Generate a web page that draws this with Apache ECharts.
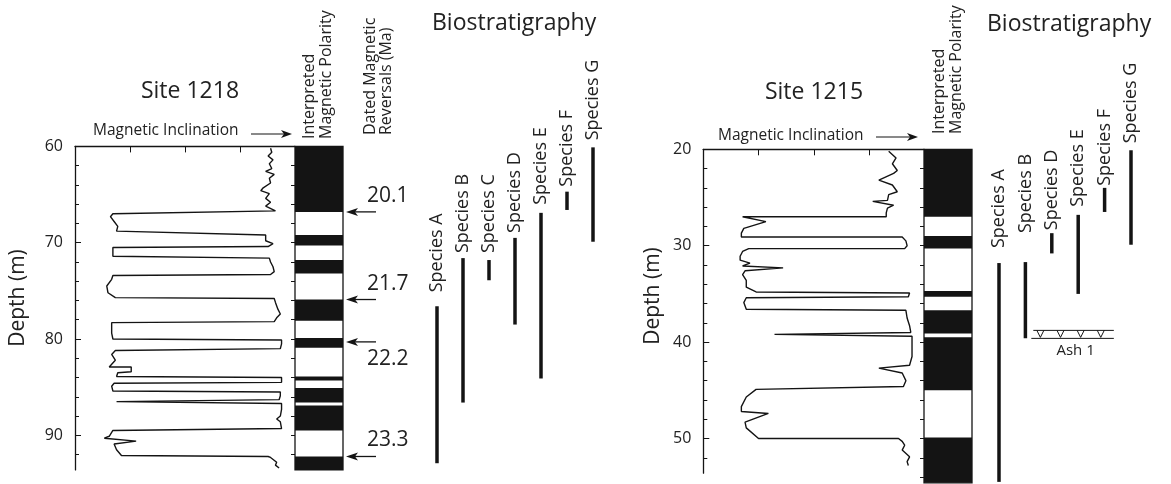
<!DOCTYPE html>
<html><head><meta charset="utf-8">
<script src="https://cdn.jsdelivr.net/npm/echarts@6/dist/echarts.min.js"></script>
<style>html,body{margin:0;padding:0;background:#fff}#c{width:1171px;height:484px}</style>
</head><body><div id="c"></div><script>
// ---------- Site 1218 ----------
const incl1218 = [
[70,60.2],[71,60.6],[68,61.0],[72,61.4],[69,61.8],[71,62.3],[66,62.6],[73,62.9],[69,63.3],[70,63.8],[64,64.3],[62,64.6],[69,64.9],[66,65.4],[70,65.8],[66,66.2],[74,66.7],[74,66.9],
[-59,67.0],[-61,67.3],[-58,67.8],[-55,68.3],[-56,68.8],[-55,68.9],
[66,69.2],[67,69.4],[66,69.8],[72,70.1],[68,70.4],
[-59,70.5],[-59,71.1],[-59,71.4],
[69,71.6],[70,72.0],[72,72.5],[73,73.0],[70,73.3],
[-59,73.4],[-60,73.8],[-64,74.5],[-63,75.2],[-57,75.7],
[73,75.8],[74,76.2],[76,76.9],[78,77.4],[75,77.8],[73,78.2],
[-60,78.3],[-60,78.8],[-60,79.4],[-59,80.0],
[79,80.1],[79,80.5],[78,81.0],
[-57,81.2],[-60,81.6],[-57,82.2],[-62,82.9],[-44,82.9],[-44,83.4],[-55,83.5],[-56,83.9],
[79,84.0],[78,84.2],[79,84.5],
[-58,84.6],[-60,84.9],[-59,85.4],
[78,85.5],[78,85.9],[77,86.3],
[-56,86.5],
[79,86.7],[79,87.3],[78,88.0],[75,88.3],[78,88.6],[79,89.3],
[-59,89.5],[-59,89.6],[-62,90.1],[-66,90.3],[-66,90.5],[-40,90.6],[-58,90.9],[-56,91.5],[-52,92.1],
[68,92.2],[70,92.3],[75,92.8],[74,93.1],[77,93.4]
];
const normalTop1218  = [60.0, 69.2, 71.8, 75.9, 79.9, 83.9, 85.1, 86.9, 92.2];
const normalBase1218 = [66.8, 70.3, 73.2, 78.1, 80.9, 84.3, 86.6, 89.5, 93.6];
const reversalAges1218   = ['20.1', '21.7', '22.2', '23.3'];
const reversalDepths1218 = [66.8, 75.9, 80.3, 92.2];
const species1218     = ['Species A','Species B','Species C','Species D','Species E','Species F','Species G'];
const speciesTop1218  = [76.6, 71.6, 71.8, 69.5, 66.9, 64.7, 60.1];
const speciesBase1218 = [92.9, 86.6, 73.9, 78.5, 84.1, 66.6, 69.9];
const depthTicks1218  = [60, 70, 80, 90];

// ---------- Site 1215 ----------
const incl1215 = [
[61,20.2],[67,20.9],[64,21.5],[68,22.2],[65,22.5],[53,23.2],[64,23.7],[68,24.4],[61,24.7],[60,25.3],[48,25.4],[65,25.8],[60,26.1],[59,26.6],[59,27.0],
[-58,27.0],[-39,27.5],[-57,28.2],[-59,28.7],[-59,29.1],
[72,29.1],[75,29.5],[76,30.0],[74,30.3],
[-53,30.3],[-58,30.6],[-60,31.1],[-60,31.5],[-52,31.8],[-58,32.1],[-25,32.3],[-56,32.6],[-58,33.0],[-55,33.6],[-55,34.3],[-47,34.8],
[78,34.9],[77,35.3],
[-55,35.4],[-57,35.9],[-55,36.6],
[75,36.7],[76,37.5],[78,38.3],[79,39.0],
[-32,39.2],
[80,39.4],[80,40.0],[80,41.5],[78,42.4],[53,42.7],[72,43.2],[75,44.0],[73,44.6],[74,44.8],
[-47,44.9],[-55,45.7],[-59,46.7],[-59,47.2],[-37,47.4],[-56,48.3],[-55,48.9],[-45,50.0],
[69,50.0],[72,50.3],[74,50.7],[72,51.2],[78,51.9],[76,52.4],[77,52.8]
];
const normalTop1215  = [20.0, 29.0, 34.7, 36.7, 39.5, 49.9];
const normalBase1215 = [27.0, 30.3, 35.3, 39.1, 45.0, 54.6];
const species1215     = ['Species A','Species B','Species D','Species E','Species F','Species G'];
const speciesTop1215  = [31.8, 31.7, 28.7, 26.8, 24.0, 20.1];
const speciesBase1215 = [54.5, 39.6, 30.8, 35.0, 26.5, 29.9];
const ashNames1215  = ['Ash 1'];
const ashDepths1215 = [39.2];
const depthTicks1215 = [20, 30, 40, 50];

// ---------- styling (label gaps above each range bar, px) ----------
const labelGap1218 = [14, 5, 7, 5, 8, 5, 7];
const labelGap1215 = [15, 29, 3, 8, 2, 7];
const INK = '#141414';
const FONT = '"Open Sans", "DejaVu Sans", sans-serif';
const labelBelowAges = ['22.2'];

function polarityItem(params, api) {
  const a = api.coord([0, api.value(1)]);
  const b = api.coord([1, api.value(2)]);
  return {type: 'rect', shape: {x: a[0], y: a[1], width: b[0] - a[0], height: b[1] - a[1]}, style: {fill: INK}};
}
function speciesItem(names, gaps) {
  return function (params, api) {
    const i = api.value(0);
    const a = api.coord([i, api.value(1)]);
    const b = api.coord([i, api.value(2)]);
    return {type: 'group', children: [
      {type: 'line', shape: {x1: a[0], y1: a[1], x2: b[0], y2: b[1]}, style: {stroke: INK, lineWidth: 3.5}},
      {type: 'text', x: a[0], y: a[1] - gaps[params.dataIndex], rotation: Math.PI / 2,
       style: {text: names[params.dataIndex], align: 'left', verticalAlign: 'middle', fontSize: 18, fontFamily: FONT, fill: '#222'}}
    ]};
  };
}
function reversalItem(params, api) {
  const p = api.coord([0, api.value(1)]);
  const x0 = p[0] + 2, y = p[1];
  const age = reversalAges1218[params.dataIndex];
  const below = labelBelowAges.indexOf(age) >= 0;
  return {type: 'group', children: [
    {type: 'line', shape: {x1: x0 + 6, y1: y, x2: x0 + 30, y2: y}, style: {stroke: INK, lineWidth: 1.3}},
    {type: 'polygon', shape: {points: [[x0, y], [x0 + 12, y - 4], [x0 + 9, y], [x0 + 12, y + 4]]}, style: {fill: INK}},
    {type: 'text', x: x0 + 21, y: below ? y + 17 : y - 16,
     style: {text: age, align: 'left', verticalAlign: 'middle', fontSize: 21, fontFamily: FONT, fill: '#222'}}
  ]};
}
function ashItem(params, api) {
  const d = api.value(0);
  const l = api.coord([1.3, d]), r = api.coord([4.35, d]);
  const y = l[1] - 4, h = 8;
  const children = [
    {type: 'line', shape: {x1: l[0], y1: y, x2: r[0], y2: y}, style: {stroke: INK, lineWidth: 1}},
    {type: 'line', shape: {x1: l[0] - 2, y1: y + h, x2: r[0], y2: y + h}, style: {stroke: INK, lineWidth: 1}}
  ];
  const n = 4, step = (r[0] - l[0]) / n;
  for (let k = 0; k < n; k++) {
    const cx = l[0] + step * (k + 0.35);
    children.push({type: 'polyline', shape: {points: [[cx - 3.5, y], [cx, y + h - 1], [cx + 3.5, y]]}, style: {stroke: INK, lineWidth: 1, fill: null}});
  }
  children.push({type: 'text', x: (l[0] + r[0]) / 2 + 2, y: y + h + 12,
    style: {text: ashNames1215[params.dataIndex], align: 'center', verticalAlign: 'middle', fontSize: 15, fontFamily: FONT, fill: '#222'}});
  return {type: 'group', children: children};
}

function depthAxis(gridIndex, min, max, ticks, withLabels) {
  return {
    type: 'value', gridIndex: gridIndex, inverse: true, min: min, max: max, interval: 10,
    axisLine: {show: withLabels, onZero: false, lineStyle: {color: INK, width: 1.3}},
    axisTick: {show: true, inside: withLabels, length: withLabels ? 6 : 4, customValues: ticks, lineStyle: {color: INK, width: 1}},
    minorTick: {show: true, splitNumber: 5, length: 4, lineStyle: {color: INK, width: 1}},
    axisLabel: {show: withLabels, customValues: ticks, margin: 12, fontSize: 16, fontFamily: FONT, color: '#222'},
    splitLine: {show: false}, minorSplitLine: {show: false}
  };
}
function hiddenY(gridIndex, min, max) {
  return {type: 'value', gridIndex: gridIndex, inverse: true, min: min, max: max, show: false};
}
function hiddenX(gridIndex, min, max) {
  return {type: 'value', gridIndex: gridIndex, min: min, max: max, show: false};
}
function inclAxis(gridIndex) {
  return {type: 'value', gridIndex: gridIndex, position: 'top', min: -90, max: 90, interval: 45,
    axisLine: {show: true, onZero: false, lineStyle: {color: INK, width: 1.3}},
    axisTick: {show: true, inside: true, length: 6, lineStyle: {color: INK}},
    axisLabel: {show: false}, splitLine: {show: false}};
}

const pxPerM = 9.63;
const grids = [
  {left: 75, top: 146.4, width: 220, height: 33.6 * pxPerM},
  {left: 295, top: 146.4, width: 48, height: 33.6 * pxPerM, show: true, borderColor: INK, borderWidth: 1.3, backgroundColor: '#fff'},
  {left: 344, top: 146.4, width: 80, height: 33.6 * pxPerM},
  {left: 424, top: 146.4, width: 182, height: 33.6 * pxPerM},
  {left: 703.3, top: 149.3, width: 221, height: 33.6 * 9.64},
  {left: 924, top: 149.3, width: 48, height: 34.6 * 9.64, show: true, borderColor: INK, borderWidth: 1.3, backgroundColor: '#fff'},
  {left: 985.8, top: 149.3, width: 158.4, height: 34.6 * 9.64}
];
const xAxes = [
  inclAxis(0), hiddenX(1, 0, 1), hiddenX(2, 0, 1), hiddenX(3, -0.5, species1218.length - 0.5),
  inclAxis(4), hiddenX(5, 0, 1), hiddenX(6, -0.5, species1215.length - 0.5)
];
const yAxes = [
  depthAxis(0, 60, 93.6, depthTicks1218, true),
  depthAxis(1, 60, 93.6, depthTicks1218, false),
  hiddenY(2, 60, 93.6), hiddenY(3, 60, 93.6),
  depthAxis(4, 20, 53.6, depthTicks1215, true),
  depthAxis(5, 20, 54.6, depthTicks1215, false),
  hiddenY(6, 20, 54.6)
];

const series = [
  {type: 'line', xAxisIndex: 0, yAxisIndex: 0, data: incl1218, showSymbol: false, symbol: 'none', animation: false,
   lineStyle: {color: INK, width: 1.4}},
  {type: 'custom', xAxisIndex: 1, yAxisIndex: 1, renderItem: polarityItem, animation: false,
   data: normalTop1218.map((t, i) => [0, t, normalBase1218[i]])},
  {type: 'custom', xAxisIndex: 2, yAxisIndex: 2, renderItem: reversalItem, animation: false, clip: false,
   data: reversalDepths1218.map(d => [0, d])},
  {type: 'custom', xAxisIndex: 3, yAxisIndex: 3, renderItem: speciesItem(species1218, labelGap1218), animation: false, clip: false,
   data: species1218.map((s, i) => [i, speciesTop1218[i], speciesBase1218[i]])},
  {type: 'line', xAxisIndex: 4, yAxisIndex: 4, data: incl1215, showSymbol: false, symbol: 'none', animation: false,
   lineStyle: {color: INK, width: 1.4}},
  {type: 'custom', xAxisIndex: 5, yAxisIndex: 5, renderItem: polarityItem, animation: false,
   data: normalTop1215.map((t, i) => [0, t, normalBase1215[i]])},
  {type: 'custom', xAxisIndex: 6, yAxisIndex: 6, renderItem: speciesItem(species1215, labelGap1215), animation: false, clip: false,
   data: species1215.map((s, i) => [i, speciesTop1215[i], speciesBase1215[i]])},
  {type: 'custom', xAxisIndex: 6, yAxisIndex: 6, renderItem: ashItem, animation: false, clip: false,
   data: ashDepths1215.map(d => [d])}
];

function txt(text, x, y, size, opts) {
  opts = opts || {};
  return {type: 'text', x: x, y: y, rotation: opts.rot ? Math.PI / 2 : 0, silent: true,
    style: {text: text, align: opts.align || 'left', verticalAlign: 'middle', fontSize: size, fontFamily: FONT, fill: '#222'}};
}
function arrow(x1, x2, y) {
  return [
    {type: 'line', shape: {x1: x1, y1: y, x2: x2 - 6, y2: y}, style: {stroke: INK, lineWidth: 1.2}},
    {type: 'polygon', shape: {points: [[x2, y], [x2 - 11, y - 4], [x2 - 8, y], [x2 - 11, y + 4]]}, style: {fill: INK}}
  ];
}
const graphic = [
  txt('Site 1218', 190, 91, 23, {align: 'center'}),
  txt('Magnetic Inclination', 93, 131, 15.5),
  ...arrow(251, 292, 134),
  txt('Interpreted', 309, 139, 16, {rot: true}),
  txt('Magnetic Polarity', 326, 139, 16, {rot: true}),
  txt('Dated Magnetic', 370, 135, 16, {rot: true}),
  txt('Reversals (Ma)', 386, 135, 16, {rot: true}),
  txt('Biostratigraphy', 432, 23, 23),
  txt('Depth (m)', 18, 298, 21, {rot: true, align: 'center'}),
  txt('Site 1215', 814, 92, 23, {align: 'center'}),
  txt('Magnetic Inclination', 718, 136, 15.5),
  ...arrow(876, 918, 137),
  txt('Interpreted', 939, 134, 16, {rot: true}),
  txt('Magnetic Polarity', 956, 134, 16, {rot: true}),
  txt('Biostratigraphy', 987, 24, 23),
  txt('Depth (m)', 653, 296, 21, {rot: true, align: 'center'})
];

const chart = echarts.init(document.getElementById('c'), null, {renderer: 'canvas'});
chart.setOption({
  backgroundColor: '#fff', animation: false,
  grid: grids, xAxis: xAxes, yAxis: yAxes, series: series, graphic: graphic
});
</script></body></html>
